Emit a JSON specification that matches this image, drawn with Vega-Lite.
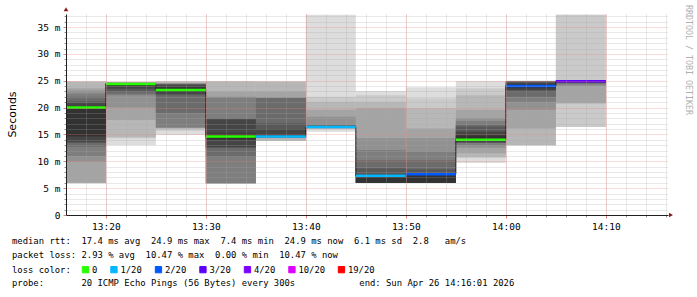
{
  "$schema": "https://vega.github.io/schema/vega-lite/v6.json",
  "width": 602,
  "height": 201,
  "autosize": {"type": "none"},
  "padding": {"left": 66, "top": 14, "right": 29, "bottom": 82},
  "background": "#ffffff",
  "config": {"view": {"stroke": null}, "font": "DejaVu Sans Mono"},
  "title": {
    "text": [
      "median rtt:\u00a0\u00a017.4\u00a0ms\u00a0avg\u00a0\u00a024.9\u00a0ms\u00a0max\u00a0\u00a07.4\u00a0ms\u00a0min\u00a0\u00a024.9\u00a0ms\u00a0now\u00a0\u00a06.1\u00a0ms\u00a0sd\u00a0\u00a02.8\u00a0\u00a0\u00a0am/s",
      "packet\u00a0loss:\u00a02.93\u00a0%\u00a0avg\u00a0\u00a010.47\u00a0%\u00a0max\u00a0\u00a00.00\u00a0%\u00a0min\u00a0\u00a010.47\u00a0%\u00a0now"
    ],
    "subtitle": "probe:\u00a0\u00a0\u00a0\u00a0\u00a0\u00a0\u00a020\u00a0ICMP\u00a0Echo\u00a0Pings\u00a0(56\u00a0Bytes)\u00a0every\u00a0300s\u00a0\u00a0\u00a0\u00a0\u00a0\u00a0\u00a0\u00a0\u00a0\u00a0\u00a0\u00a0end:\u00a0Sun\u00a0Apr\u00a026\u00a014:16:01\u00a02026",
    "orient": "bottom",
    "anchor": "start",
    "frame": "group",
    "dx": -54,
    "offset": -38.5,
    "font": "DejaVu Sans Mono",
    "fontSize": 8.9,
    "fontWeight": "normal",
    "color": "#000000",
    "lineHeight": 14.4,
    "subtitleFont": "DejaVu Sans Mono",
    "subtitleFontSize": 8.9,
    "subtitleFontWeight": "normal",
    "subtitleColor": "#000000",
    "subtitleLineHeight": 14.4,
    "subtitlePadding": 18.8
  },
  "datasets": {
    "smoke": [
      {"from_min": 15, "to_min": 20, "k": 1, "lo": 5.9, "hi": 24.9},
      {"from_min": 15, "to_min": 20, "k": 2, "lo": 5.9, "hi": 24.85},
      {"from_min": 15, "to_min": 20, "k": 3, "lo": 5.95, "hi": 24.8},
      {"from_min": 15, "to_min": 20, "k": 4, "lo": 6.0, "hi": 23.6},
      {"from_min": 15, "to_min": 20, "k": 5, "lo": 9.9, "hi": 23.2},
      {"from_min": 15, "to_min": 20, "k": 6, "lo": 11.0, "hi": 22.6},
      {"from_min": 15, "to_min": 20, "k": 7, "lo": 12.7, "hi": 22.0},
      {"from_min": 15, "to_min": 20, "k": 8, "lo": 13.4, "hi": 21.2},
      {"from_min": 15, "to_min": 20, "k": 9, "lo": 13.6, "hi": 20.8},
      {"from_min": 15, "to_min": 20, "k": 10, "lo": 14.6, "hi": 20.3},

      {"from_min": 20, "to_min": 25, "k": 1, "lo": 13.0, "hi": 24.8},
      {"from_min": 20, "to_min": 25, "k": 2, "lo": 14.3, "hi": 24.75},
      {"from_min": 20, "to_min": 25, "k": 3, "lo": 14.5, "hi": 24.7},
      {"from_min": 20, "to_min": 25, "k": 4, "lo": 17.7, "hi": 24.7},
      {"from_min": 20, "to_min": 25, "k": 5, "lo": 20.0, "hi": 24.65},
      {"from_min": 20, "to_min": 25, "k": 6, "lo": 22.3, "hi": 24.6},
      {"from_min": 20, "to_min": 25, "k": 7, "lo": 22.6, "hi": 24.6},
      {"from_min": 20, "to_min": 25, "k": 8, "lo": 23.0, "hi": 24.55},
      {"from_min": 20, "to_min": 25, "k": 9, "lo": 23.5, "hi": 24.5},
      {"from_min": 20, "to_min": 25, "k": 10, "lo": 24.0, "hi": 24.5},

      {"from_min": 25, "to_min": 30, "k": 1, "lo": 14.9, "hi": 24.9},
      {"from_min": 25, "to_min": 30, "k": 2, "lo": 15.7, "hi": 24.85},
      {"from_min": 25, "to_min": 30, "k": 3, "lo": 16.0, "hi": 24.8},
      {"from_min": 25, "to_min": 30, "k": 4, "lo": 16.2, "hi": 24.6},
      {"from_min": 25, "to_min": 30, "k": 5, "lo": 16.3, "hi": 24.5},
      {"from_min": 25, "to_min": 30, "k": 6, "lo": 16.3, "hi": 24.45},
      {"from_min": 25, "to_min": 30, "k": 7, "lo": 19.0, "hi": 24.4},
      {"from_min": 25, "to_min": 30, "k": 8, "lo": 22.3, "hi": 24.35},
      {"from_min": 25, "to_min": 30, "k": 9, "lo": 22.6, "hi": 24.2},
      {"from_min": 25, "to_min": 30, "k": 10, "lo": 22.9, "hi": 23.8},

      {"from_min": 30, "to_min": 35, "k": 1, "lo": 5.9, "hi": 24.9},
      {"from_min": 30, "to_min": 35, "k": 2, "lo": 5.9, "hi": 24.88},
      {"from_min": 30, "to_min": 35, "k": 3, "lo": 5.9, "hi": 24.85},
      {"from_min": 30, "to_min": 35, "k": 4, "lo": 5.9, "hi": 23.0},
      {"from_min": 30, "to_min": 35, "k": 5, "lo": 5.9, "hi": 22.0},
      {"from_min": 30, "to_min": 35, "k": 6, "lo": 5.9, "hi": 21.9},
      {"from_min": 30, "to_min": 35, "k": 7, "lo": 10.9, "hi": 18.0},
      {"from_min": 30, "to_min": 35, "k": 8, "lo": 12.5, "hi": 17.9},
      {"from_min": 30, "to_min": 35, "k": 9, "lo": 12.6, "hi": 17.8},
      {"from_min": 30, "to_min": 35, "k": 10, "lo": 14.0, "hi": 15.2},

      {"from_min": 35, "to_min": 40, "k": 1, "lo": 13.8, "hi": 24.9},
      {"from_min": 35, "to_min": 40, "k": 2, "lo": 13.8, "hi": 24.85},
      {"from_min": 35, "to_min": 40, "k": 3, "lo": 13.8, "hi": 24.8},
      {"from_min": 35, "to_min": 40, "k": 4, "lo": 14.3, "hi": 23.0},
      {"from_min": 35, "to_min": 40, "k": 5, "lo": 14.4, "hi": 21.9},
      {"from_min": 35, "to_min": 40, "k": 6, "lo": 14.45, "hi": 21.85},
      {"from_min": 35, "to_min": 40, "k": 7, "lo": 14.5, "hi": 21.8},
      {"from_min": 35, "to_min": 40, "k": 8, "lo": 14.55, "hi": 17.1},
      {"from_min": 35, "to_min": 40, "k": 9, "lo": 14.6, "hi": 16.0},
      {"from_min": 35, "to_min": 40, "k": 10, "lo": 14.65, "hi": 15.0},

      {"from_min": 40, "to_min": 45, "k": 1, "lo": 15.5, "hi": 37.3},
      {"from_min": 40, "to_min": 45, "k": 2, "lo": 16.0, "hi": 22.0},
      {"from_min": 40, "to_min": 45, "k": 3, "lo": 16.1, "hi": 21.1},
      {"from_min": 40, "to_min": 45, "k": 4, "lo": 16.1, "hi": 19.6},
      {"from_min": 40, "to_min": 45, "k": 5, "lo": 16.2, "hi": 18.3},
      {"from_min": 40, "to_min": 45, "k": 6, "lo": 16.2, "hi": 16.8},
      {"from_min": 40, "to_min": 45, "k": 7, "lo": 16.25, "hi": 16.7},
      {"from_min": 40, "to_min": 45, "k": 8, "lo": 16.3, "hi": 16.6},
      {"from_min": 40, "to_min": 45, "k": 9, "lo": 16.3, "hi": 16.5},
      {"from_min": 40, "to_min": 45, "k": 10, "lo": 16.35, "hi": 16.45},

      {"from_min": 45, "to_min": 50, "k": 1, "lo": 6.0, "hi": 23.1},
      {"from_min": 45, "to_min": 50, "k": 2, "lo": 6.0, "hi": 22.3},
      {"from_min": 45, "to_min": 50, "k": 3, "lo": 6.0, "hi": 21.1},
      {"from_min": 45, "to_min": 50, "k": 4, "lo": 6.0, "hi": 19.9},
      {"from_min": 45, "to_min": 50, "k": 5, "lo": 6.0, "hi": 14.3},
      {"from_min": 45, "to_min": 50, "k": 6, "lo": 6.0, "hi": 12.1},
      {"from_min": 45, "to_min": 50, "k": 7, "lo": 6.0, "hi": 10.2},
      {"from_min": 45, "to_min": 50, "k": 8, "lo": 6.0, "hi": 8.7},
      {"from_min": 45, "to_min": 50, "k": 9, "lo": 6.0, "hi": 7.6},
      {"from_min": 45, "to_min": 50, "k": 10, "lo": 6.0, "hi": 7.4},

      {"from_min": 50, "to_min": 55, "k": 1, "lo": 6.0, "hi": 23.8},
      {"from_min": 50, "to_min": 55, "k": 2, "lo": 6.0, "hi": 21.7},
      {"from_min": 50, "to_min": 55, "k": 3, "lo": 6.0, "hi": 19.9},
      {"from_min": 50, "to_min": 55, "k": 4, "lo": 6.0, "hi": 16.1},
      {"from_min": 50, "to_min": 55, "k": 5, "lo": 6.0, "hi": 14.3},
      {"from_min": 50, "to_min": 55, "k": 6, "lo": 6.0, "hi": 11.8},
      {"from_min": 50, "to_min": 55, "k": 7, "lo": 6.0, "hi": 10.2},
      {"from_min": 50, "to_min": 55, "k": 8, "lo": 6.0, "hi": 8.5},
      {"from_min": 50, "to_min": 55, "k": 9, "lo": 6.0, "hi": 7.8},
      {"from_min": 50, "to_min": 55, "k": 10, "lo": 6.0, "hi": 7.6},

      {"from_min": 55, "to_min": 60, "k": 1, "lo": 9.7, "hi": 24.95},
      {"from_min": 55, "to_min": 60, "k": 2, "lo": 10.6, "hi": 23.6},
      {"from_min": 55, "to_min": 60, "k": 3, "lo": 10.8, "hi": 22.3},
      {"from_min": 55, "to_min": 60, "k": 4, "lo": 11.5, "hi": 19.6},
      {"from_min": 55, "to_min": 60, "k": 5, "lo": 12.5, "hi": 18.0},
      {"from_min": 55, "to_min": 60, "k": 6, "lo": 13.0, "hi": 17.5},
      {"from_min": 55, "to_min": 60, "k": 7, "lo": 13.4, "hi": 16.8},
      {"from_min": 55, "to_min": 60, "k": 8, "lo": 13.4, "hi": 16.5},
      {"from_min": 55, "to_min": 60, "k": 9, "lo": 13.6, "hi": 15.5},
      {"from_min": 55, "to_min": 60, "k": 10, "lo": 13.8, "hi": 14.8},

      {"from_min": 60, "to_min": 65, "k": 1, "lo": 13.0, "hi": 25.0},
      {"from_min": 60, "to_min": 65, "k": 2, "lo": 13.0, "hi": 24.98},
      {"from_min": 60, "to_min": 65, "k": 3, "lo": 13.0, "hi": 24.95},
      {"from_min": 60, "to_min": 65, "k": 4, "lo": 16.1, "hi": 24.95},
      {"from_min": 60, "to_min": 65, "k": 5, "lo": 19.6, "hi": 24.9},
      {"from_min": 60, "to_min": 65, "k": 6, "lo": 21.1, "hi": 24.9},
      {"from_min": 60, "to_min": 65, "k": 7, "lo": 22.0, "hi": 24.85},
      {"from_min": 60, "to_min": 65, "k": 8, "lo": 23.0, "hi": 24.8},
      {"from_min": 60, "to_min": 65, "k": 9, "lo": 23.3, "hi": 24.6},
      {"from_min": 60, "to_min": 65, "k": 10, "lo": 23.6, "hi": 24.3},

      {"from_min": 65, "to_min": 70, "k": 1, "lo": 16.4, "hi": 37.3},
      {"from_min": 65, "to_min": 70, "k": 2, "lo": 16.4, "hi": 37.3},
      {"from_min": 65, "to_min": 70, "k": 3, "lo": 20.8, "hi": 25.0},
      {"from_min": 65, "to_min": 70, "k": 4, "lo": 20.8, "hi": 25.0},
      {"from_min": 65, "to_min": 70, "k": 5, "lo": 24.0, "hi": 25.0},
      {"from_min": 65, "to_min": 70, "k": 6, "lo": 24.3, "hi": 25.0},
      {"from_min": 65, "to_min": 70, "k": 7, "lo": 24.5, "hi": 24.99},
      {"from_min": 65, "to_min": 70, "k": 8, "lo": 24.6, "hi": 24.98},
      {"from_min": 65, "to_min": 70, "k": 9, "lo": 24.7, "hi": 24.96},
      {"from_min": 65, "to_min": 70, "k": 10, "lo": 24.8, "hi": 24.95}
    ],
    "median": [
      {"from_min": 15, "to_min": 20, "median": 20.0, "loss": "0"},
      {"from_min": 20, "to_min": 25, "median": 24.4, "loss": "0"},
      {"from_min": 25, "to_min": 30, "median": 23.3, "loss": "0"},
      {"from_min": 30, "to_min": 35, "median": 14.6, "loss": "0"},
      {"from_min": 35, "to_min": 40, "median": 14.6, "loss": "1/20"},
      {"from_min": 40, "to_min": 45, "median": 16.4, "loss": "1/20"},
      {"from_min": 45, "to_min": 50, "median": 7.3, "loss": "1/20"},
      {"from_min": 50, "to_min": 55, "median": 7.6, "loss": "2/20"},
      {"from_min": 55, "to_min": 60, "median": 14.0, "loss": "0"},
      {"from_min": 60, "to_min": 65, "median": 24.0, "loss": "2/20"},
      {"from_min": 65, "to_min": 70, "median": 24.9, "loss": "3/20"}
    ]
  },
  "layer": [
    {
      "data": {"name": "smoke"},
      "mark": {"type": "rect", "clip": true},
      "encoding": {
        "x": {
          "field": "from_min", "type": "quantitative",
          "scale": {"domain": [16.017, 76.217], "nice": false, "zero": false},
          "axis": {
            "orient": "bottom", "grid": true, "gridColor": "#a8a8a8", "gridOpacity": 0.5, "gridDash": [1, 1],
            "values": [18,20,22,24,26,28,30,32,34,36,38,40,42,44,46,48,50,52,54,56,58,60,62,64,66,68,70,72,74,76],
            "labels": false, "domain": false,
            "ticks": true, "tickSize": 2, "tickColor": "#909090", "title": null, "zindex": 1
          }
        },
        "x2": {"field": "to_min"},
        "y": {
          "field": "lo", "type": "quantitative",
          "scale": {"domain": [0, 37.43], "nice": false, "zero": true},
          "axis": {
            "orient": "left", "grid": true, "gridColor": "#a8a8a8", "gridOpacity": 0.5, "gridDash": [1, 1],
            "values": [1,2,3,4,6,7,8,9,11,12,13,14,16,17,18,19,21,22,23,24,26,27,28,29,31,32,33,34,36,37],
            "labels": false, "domain": false, "ticks": true, "tickSize": 2, "tickColor": "#909090",
            "title": null, "zindex": 1
          }
        },
        "y2": {"field": "hi"},
        "fill": {
          "field": "k", "type": "ordinal", "legend": null,
          "scale": {"domain": [1,2,3,4,5,6,7,8,9,10],
            "range": ["#dddddd","#cacaca","#b7b7b7","#a4a4a4","#919191","#7e7e7e","#6b6b6b","#585858","#454545","#323232"]}
        },
        "order": {"field": "k", "type": "quantitative"}
      }
    },
    {
      "layer": [
        {
          "data": {"name": "median"},
          "mark": {"type": "line", "interpolate": "step-after", "color": "#202020", "strokeWidth": 1, "clip": true},
          "encoding": {
            "x": {"field": "from_min", "type": "quantitative", "axis": null,
              "scale": {"domain": [16.017, 76.217], "nice": false, "zero": false}},
            "y": {"field": "median", "type": "quantitative", "axis": null,
              "scale": {"domain": [0, 37.43], "nice": false, "zero": true}}
          }
        },
        {
          "data": {"values": [{}]},
          "mark": {"type": "point", "shape": "triangle-up", "filled": true, "color": "#8b1a1a", "opacity": 1, "size": 22, "clip": false},
          "encoding": {
            "x": {"datum": 16.017, "type": "quantitative", "axis": null},
            "y": {"datum": 38.3, "type": "quantitative", "axis": null}
          }
        },
        {
          "data": {"values": [{}]},
          "mark": {"type": "point", "shape": "triangle-right", "filled": true, "color": "#8b1a1a", "opacity": 1, "size": 22, "clip": false},
          "encoding": {
            "x": {"datum": 76.517, "type": "quantitative", "axis": null},
            "y": {"datum": 0, "type": "quantitative", "axis": null}
          }
        },
        {
          "data": {"values": [{}]},
          "mark": {"type": "text", "text": "RRDTOOL / TOBI OETIKER", "angle": 90, "align": "left", "baseline": "middle",
            "font": "DejaVu Sans Mono", "fontSize": 8.3, "color": "#b0b0b0", "clip": false},
          "encoding": {
            "x": {"datum": 78.217, "type": "quantitative", "axis": null},
            "y": {"datum": 39.1, "type": "quantitative", "axis": null}
          }
        }
      ]
    },
    {
      "data": {"name": "median"},
      "mark": {"type": "rule", "strokeWidth": 2.5, "strokeCap": "butt", "clip": true},
      "encoding": {
        "x": {
          "field": "from_min", "type": "quantitative",
          "scale": {"domain": [16.017, 76.217], "nice": false, "zero": false},
          "axis": {
            "orient": "bottom", "grid": true, "gridColor": "#f08080", "gridOpacity": 0.55, "gridDash": [1, 1],
            "values": [20, 30, 40, 50, 60, 70],
            "labelExpr": "(13 + floor(datum.value / 60)) + ':' + (datum.value % 60 < 10 ? '0' : '') + (datum.value % 60)",
            "labelFont": "DejaVu Sans Mono", "labelFontSize": 9.5, "labelColor": "#000000", "labelPadding": 3,
            "tickSize": 3, "tickColor": "#e08080", "domainColor": "#202020", "title": null, "zindex": 1
          }
        },
        "x2": {"field": "to_min"},
        "y": {
          "field": "median", "type": "quantitative",
          "scale": {"domain": [0, 37.43], "nice": false, "zero": true},
          "axis": {
            "orient": "left", "grid": true, "gridColor": "#f08080", "gridOpacity": 0.55, "gridDash": [1, 1],
            "values": [0, 5, 10, 15, 20, 25, 30, 35],
            "labelExpr": "datum.value == 0 ? '0' : datum.value + ' m'",
            "labelFont": "DejaVu Sans Mono", "labelFontSize": 9.5, "labelColor": "#000000", "labelPadding": 3,
            "tickSize": 3, "tickColor": "#e08080", "domainColor": "#202020",
            "title": "Seconds", "titleFont": "DejaVu Sans", "titleFontSize": 11, "titleFontWeight": "normal",
            "titleColor": "#000000", "titleX": -54, "titleY": 100, "titleAngle": -90, "titleBaseline": "middle",
            "titleAlign": "center", "zindex": 1
          }
        },
        "stroke": {
          "field": "loss", "type": "nominal",
          "scale": {"domain": ["0", "1/20", "2/20", "3/20", "4/20", "10/20", "19/20"],
            "range": ["#26ff00", "#00b8ff", "#0059ff", "#5e00ff", "#7e00ff", "#dd00ff", "#ff0000"]},
          "legend": {
            "orient": "none", "legendX": -54, "legendY": 251, "direction": "horizontal",
            "title": "loss color:", "titleOrient": "left", "titleFont": "DejaVu Sans Mono", "titleFontSize": 8.9,
            "titleFontWeight": "normal", "titleColor": "#000000", "titlePadding": 10,
            "labelFont": "DejaVu Sans Mono", "labelFontSize": 8.9, "labelColor": "#000000", "labelOffset": 2,
            "columnPadding": 10.5, "symbolType": "square", "symbolSize": 40, "symbolStrokeWidth": 1,
            "symbolStrokeColor": "#000000",
            "encode": {"symbols": {"update": {
              "fill": {"scale": "stroke", "field": "value"},
              "stroke": {"value": "#000000"}, "strokeWidth": {"value": 1},
              "shape": {"value": "square"}, "opacity": {"value": 1}
            }}}
          }
        }
      }
    }
  ],
  "resolve": {"scale": {"x": "independent", "y": "independent"}}
}
